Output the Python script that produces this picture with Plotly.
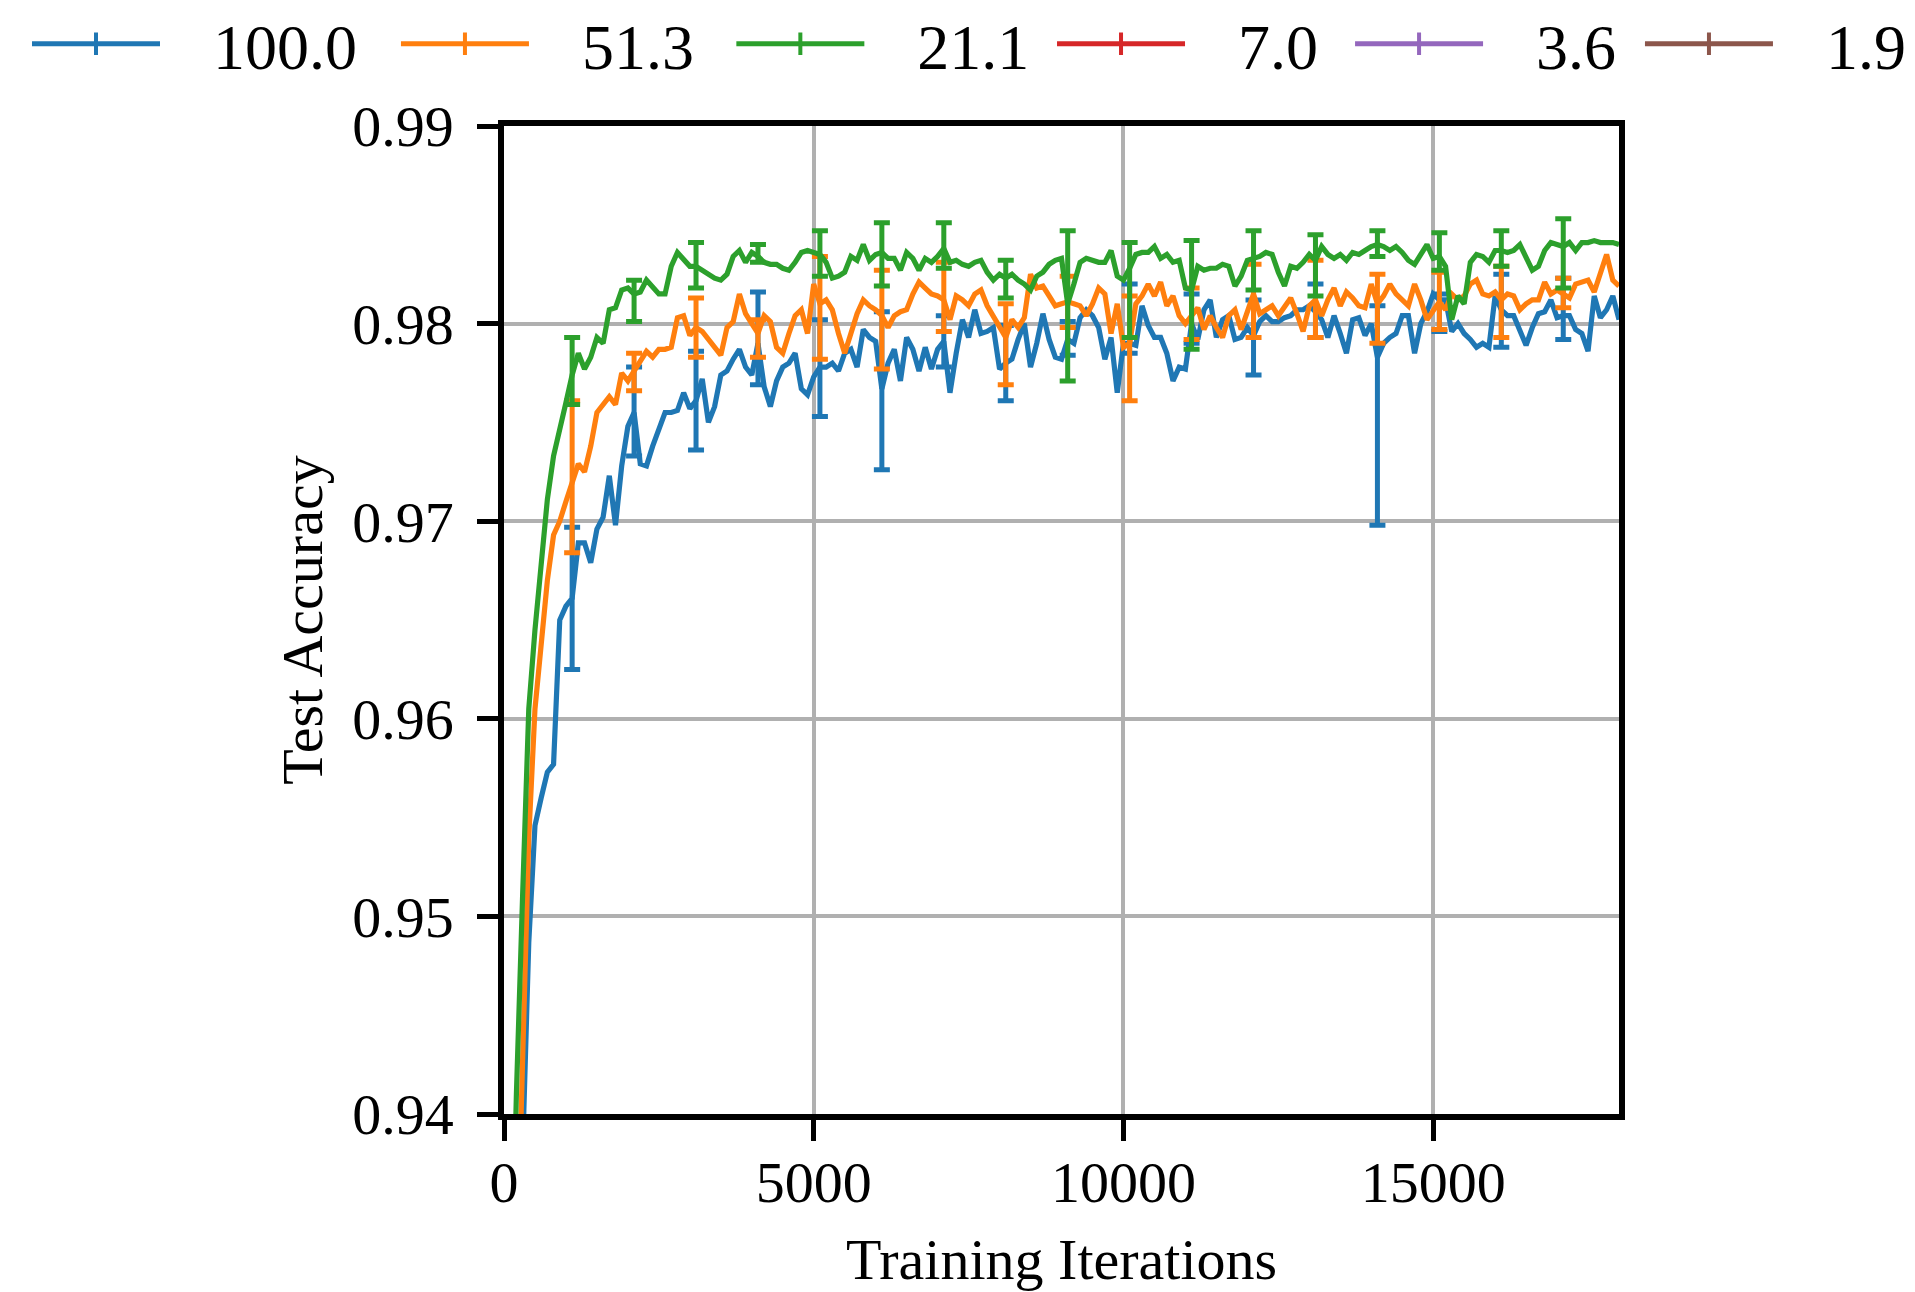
import plotly.graph_objects as go

iterations = list(range(100, 18001, 100))

acc_100 = [0.915, 0.928, 0.938, 0.9487, 0.9546, 0.9560, 0.9573, 0.9577, 0.9650, 0.9657,
           0.9661, 0.9689, 0.9689, 0.9679, 0.9696, 0.9702, 0.9723, 0.9698, 0.9728, 0.9748,
           0.9755, 0.9729, 0.9728, 0.9738, 0.9746, 0.9755, 0.9755, 0.9756, 0.9765, 0.9757,
           0.9761, 0.9772, 0.9750, 0.9758, 0.9774, 0.9776, 0.9782, 0.9787, 0.9778, 0.9774,
           0.9790, 0.9768, 0.9758, 0.9771, 0.9778, 0.9780, 0.9785, 0.9767, 0.9764, 0.9773,
           0.9778, 0.9778, 0.9780, 0.9776, 0.9785, 0.9787, 0.9778, 0.9797, 0.9793, 0.9791,
           0.9767, 0.9780, 0.9787, 0.9771, 0.9793, 0.9787, 0.9776, 0.9788, 0.9777, 0.9787,
           0.9791, 0.9765, 0.9785, 0.9802, 0.9793, 0.9807, 0.9795, 0.9796, 0.9798, 0.9777,
           0.9780, 0.9782, 0.9792, 0.9800, 0.9778, 0.9790, 0.9805, 0.9792, 0.9783, 0.9782,
           0.9792, 0.9790, 0.9803, 0.9807, 0.9804, 0.9798, 0.9782, 0.9793, 0.9765, 0.9790,
           0.9790, 0.9789, 0.9809, 0.9799, 0.9793, 0.9793, 0.9785, 0.9771, 0.9778, 0.9777,
           0.9800, 0.9792, 0.9807, 0.9812, 0.9793, 0.9802, 0.9804, 0.9792, 0.9793, 0.9798,
           0.9794, 0.9801, 0.9804, 0.9801, 0.9801, 0.9803, 0.9804, 0.9807, 0.9807, 0.9809,
           0.9806, 0.9802, 0.9793, 0.9804, 0.9795, 0.9785, 0.9802, 0.9803, 0.9794, 0.9800,
           0.9783, 0.9790, 0.9793, 0.9795, 0.9804, 0.9804, 0.9785, 0.9800, 0.9806, 0.9815,
           0.9812, 0.9812, 0.9796, 0.9800, 0.9795, 0.9792, 0.9788, 0.9790, 0.9788, 0.9814,
           0.9807, 0.9804, 0.9804, 0.9797, 0.9789, 0.9798, 0.9805, 0.9806, 0.9812, 0.9803,
           0.9804, 0.9804, 0.9797, 0.9795, 0.9786, 0.9814, 0.9803, 0.9807, 0.9814, 0.9802]

acc_51 = [0.920, 0.932, 0.943, 0.954, 0.9605, 0.9640, 0.9670, 0.9693, 0.9700, 0.9710,
          0.9720, 0.9729, 0.9725, 0.9738, 0.9755, 0.9759, 0.9763, 0.9759, 0.9775, 0.9771,
          0.9776, 0.9780, 0.9786, 0.9783, 0.9787, 0.9787, 0.9788, 0.9803, 0.9804, 0.9794,
          0.9798, 0.9796, 0.9792, 0.9788, 0.9784, 0.9798, 0.9801, 0.9815, 0.9805, 0.9800,
          0.9795, 0.9804, 0.9801, 0.9788, 0.9785, 0.9795, 0.9804, 0.9807, 0.9795, 0.9820,
          0.9810, 0.9812, 0.9807, 0.9795, 0.9785, 0.9795, 0.9805, 0.9812, 0.9809, 0.9807,
          0.9804, 0.9798, 0.9804, 0.9806, 0.9807, 0.9815, 0.9821, 0.9818, 0.9815, 0.9814,
          0.9812, 0.9802, 0.9814, 0.9812, 0.9809, 0.9815, 0.9817, 0.9809, 0.9804, 0.9799,
          0.9793, 0.9802, 0.9798, 0.9803, 0.9825, 0.9818, 0.9819, 0.9814, 0.9809, 0.9810,
          0.9811, 0.9810, 0.9809, 0.9804, 0.9810, 0.9818, 0.9815, 0.9795, 0.9810, 0.9788,
          0.9790, 0.9810, 0.9814, 0.9820, 0.9814, 0.9821, 0.9809, 0.9814, 0.9804, 0.9800,
          0.9804, 0.9808, 0.9797, 0.9804, 0.9798, 0.9793, 0.9804, 0.9807, 0.9797, 0.9807,
          0.9815, 0.9805, 0.9807, 0.9809, 0.9804, 0.9809, 0.9813, 0.9805, 0.9796, 0.9809,
          0.9812, 0.9804, 0.9812, 0.9818, 0.9809, 0.9816, 0.9813, 0.9809, 0.9808, 0.9820,
          0.9810, 0.9814, 0.9820, 0.9815, 0.9812, 0.9809, 0.9820, 0.9812, 0.9802, 0.9807,
          0.9811, 0.9807, 0.9815, 0.9812, 0.9814, 0.9820, 0.9822, 0.9815, 0.9814, 0.9816,
          0.9812, 0.9815, 0.9814, 0.9807, 0.9810, 0.9812, 0.9812, 0.9821, 0.9815, 0.9817,
          0.9815, 0.9813, 0.9820, 0.9821, 0.9822, 0.9816, 0.9825, 0.9835, 0.9822, 0.9819]

acc_21 = [0.928, 0.941, 0.951, 0.9605, 0.9645, 0.9680, 0.9711, 0.9733, 0.9748, 0.9760,
          0.9774, 0.9785, 0.9777, 0.9783, 0.9793, 0.9790, 0.9807, 0.9808, 0.9817, 0.9818,
          0.9815, 0.9816, 0.9822, 0.9818, 0.9815, 0.9815, 0.9829, 0.9836, 0.9832, 0.9829,
          0.9829, 0.9827, 0.9825, 0.9823, 0.9822, 0.9825, 0.9834, 0.9837, 0.9831, 0.9836,
          0.9834, 0.9831, 0.9830, 0.9830, 0.9828, 0.9827, 0.9831, 0.9836, 0.9837, 0.9836,
          0.9835, 0.9831, 0.9823, 0.9824, 0.9826, 0.9834, 0.9832, 0.9840, 0.9832, 0.9835,
          0.9836, 0.9833, 0.9833, 0.9827, 0.9836, 0.9833, 0.9827, 0.9833, 0.9831, 0.9834,
          0.9838, 0.9831, 0.9832, 0.9830, 0.9829, 0.9831, 0.9832, 0.9826, 0.9822, 0.9825,
          0.9823, 0.9825, 0.9822, 0.9820, 0.9817, 0.9824, 0.9826, 0.9830, 0.9832, 0.9833,
          0.9810, 0.9820, 0.9831, 0.9833, 0.9832, 0.9831, 0.9831, 0.9837, 0.9824, 0.9822,
          0.9828, 0.9835, 0.9836, 0.9836, 0.9839, 0.9833, 0.9835, 0.9831, 0.9832, 0.9818,
          0.9817, 0.9829, 0.9827, 0.9828, 0.9828, 0.9830, 0.9829, 0.9819, 0.9824, 0.9832,
          0.9833, 0.9834, 0.9836, 0.9835, 0.9826, 0.9819, 0.9829, 0.9828, 0.9831, 0.9835,
          0.9832, 0.9839, 0.9835, 0.9833, 0.9835, 0.9832, 0.9836, 0.9835, 0.9837, 0.9839,
          0.9840, 0.9839, 0.9837, 0.9839, 0.9836, 0.9832, 0.9830, 0.9835, 0.9840, 0.9833,
          0.9834, 0.9829, 0.9802, 0.9814, 0.9810, 0.9831, 0.9835, 0.9834, 0.9831, 0.9837,
          0.9837, 0.9836, 0.9837, 0.9840, 0.9833, 0.9827, 0.9829, 0.9837, 0.9841, 0.9840,
          0.9839, 0.9841, 0.9837, 0.9841, 0.9841, 0.9842, 0.9841, 0.9841, 0.9841, 0.9840]

# error bars every 10th point (iterations 1100, 2100, ..., 17100): upper / lower ends
err_index = [10, 20, 30, 40, 50, 60, 70, 80, 90, 100, 110, 120, 130, 140, 150, 160, 170]
hi_100 = [0.9697, 0.9778, 0.9786, 0.9816, 0.9802, 0.9806, 0.9804, 0.9799, 0.9801, 0.9820,
          0.9815, 0.9812, 0.9820, 0.9809, 0.9815, 0.9825, 0.9823]
lo_100 = [0.9625, 0.9733, 0.9736, 0.9769, 0.9753, 0.9726, 0.9778, 0.9761, 0.9784, 0.9785,
          0.9790, 0.9774, 0.9793, 0.9698, 0.9796, 0.9788, 0.9792]
hi_51 = [0.9761, 0.9785, 0.9813, 0.9802, 0.9834, 0.9827, 0.9831, 0.9810, 0.9824, 0.9814,
         0.9818, 0.9830, 0.9832, 0.9825, 0.9826, 0.9829, 0.9823]
lo_51 = [0.9684, 0.9766, 0.9783, 0.9783, 0.9782, 0.9777, 0.9796, 0.9769, 0.9798, 0.9761,
         0.9792, 0.9793, 0.9793, 0.9790, 0.9797, 0.9793, 0.9808]
hi_21 = [0.9793, 0.9822, 0.9841, 0.9840, 0.9847, 0.9851, 0.9851, 0.9832, 0.9847, 0.9841,
         0.9842, 0.9847, 0.9845, 0.9847, 0.9846, 0.9847, 0.9853]
lo_21 = [0.9759, 0.9801, 0.9818, 0.9831, 0.9824, 0.9819, 0.9828, 0.9813, 0.9771, 0.9793,
         0.9787, 0.9817, 0.9814, 0.9834, 0.9827, 0.9829, 0.9818]

legend_labels = ["100.0", "51.3", "21.1", "7.0", "3.6", "1.9"]
colors = ["#1f77b4", "#ff7f0e", "#2ca02c", "#d62728", "#9467bd", "#8c564b"]

x_ticks = [0, 5000, 10000, 15000]
y_ticks = [0.94, 0.95, 0.96, 0.97, 0.98, 0.99]

series = [(acc_100, hi_100, lo_100), (acc_51, hi_51, lo_51), (acc_21, hi_21, lo_21)]

# horizontal anchor (paper fraction) of each legend entry, matplotlib-like spacing
legend_x = [-0.4278, -0.0969, 0.2039, 0.4915, 0.7588, 1.0188]

FONT = "Liberation Serif"
fig = go.Figure()

for k, (vals, hi, lo) in enumerate(series):
    c = colors[k]
    fig.add_trace(go.Scatter(x=iterations, y=vals, mode="lines",
                             line=dict(color=c, width=5.2), showlegend=False,
                             hoverinfo="skip"))
    ex = [iterations[i] for i in err_index]
    ey = [vals[i] for i in err_index]
    fig.add_trace(go.Scatter(
        x=ex, y=ey, mode="markers", marker=dict(size=1, color=c, opacity=0),
        showlegend=False, hoverinfo="skip",
        error_y=dict(type="data", symmetric=False,
                     array=[h - v for h, v in zip(hi, ey)],
                     arrayminus=[v - l for v, l in zip(ey, lo)],
                     color=c, thickness=5, width=8)))

legend_layouts = {}
for j, (lab, c) in enumerate(zip(legend_labels, colors)):
    lname = "legend" if j == 0 else "legend%d" % (j + 1)
    fig.add_trace(go.Scatter(
        x=[None], y=[None], mode="lines+markers", name="\u2002\u00a0" + lab,
        legend=lname,
        line=dict(color=c, width=5),
        marker=dict(symbol="line-ns", size=40, color=c, line=dict(color=c, width=4))))
    legend_layouts[lname] = dict(
        orientation="h", x=legend_x[j], xanchor="left", y=1.132, yanchor="top",
        font=dict(family=FONT, size=64), itemwidth=128,
        bgcolor="rgba(0,0,0,0)", borderwidth=0)

fig.update_layout(
    width=1907, height=1284,
    margin=dict(l=496, r=296, t=118, b=178, autoexpand=False),
    paper_bgcolor="white", plot_bgcolor="white",
    font=dict(family=FONT, color="black", size=58),
    showlegend=True,
    **legend_layouts,
)
fig.update_xaxes(range=[0, 18000], tickvals=x_ticks, ticktext=[str(v) for v in x_ticks],
                 showgrid=True, gridcolor="#b0b0b0", gridwidth=3.5,
                 showline=True, linecolor="black", linewidth=5.5, mirror=True,
                 ticks="outside", ticklen=21, tickwidth=5, tickcolor="black",
                 ticklabelstandoff=-8,
                 tickfont=dict(family=FONT, size=58), zeroline=False,
                 title=dict(text="Training Iterations", font=dict(family=FONT, size=58),
                            standoff=32))
fig.update_yaxes(range=[0.94, 0.99], tickvals=y_ticks, ticktext=["%.2f" % v for v in y_ticks],
                 showgrid=True, gridcolor="#b0b0b0", gridwidth=3.5,
                 showline=True, linecolor="black", linewidth=5.5, mirror=True,
                 ticks="outside", ticklen=21, tickwidth=5, tickcolor="black",
                 ticklabelstandoff=12,
                 tickfont=dict(family=FONT, size=58), zeroline=False,
                 title=dict(text="Test Accuracy", font=dict(family=FONT, size=58),
                            standoff=13))

fig.write_html("out.html")
